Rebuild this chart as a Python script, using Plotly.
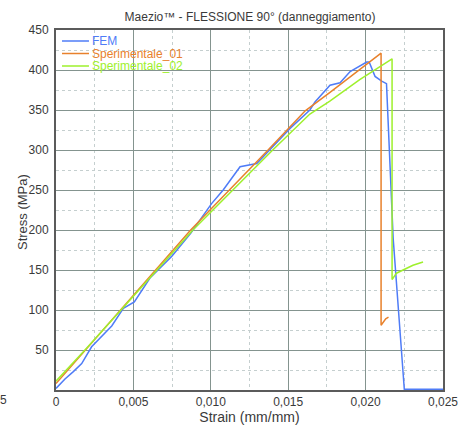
import plotly.graph_objects as go

# ---------------- data ----------------
fem_strain = [0, 0.00058, 0.00112, 0.00166, 0.0023, 0.00284, 0.0036, 0.00435, 0.00506,
              0.00607, 0.00747, 0.0087, 0.01005, 0.0108, 0.01189, 0.01297, 0.01512,
              0.0164, 0.01673, 0.0177, 0.01835, 0.019, 0.02007, 0.02023, 0.02061,
              0.02104, 0.02135, 0.02178, 0.0225, 0.025]
fem_stress = [2, 13.7, 23, 33, 54, 64.6, 80, 102, 110,
              140, 167, 196, 233, 250, 279, 283, 327,
              350, 360, 381, 384, 398, 410, 410, 392,
              386, 383, 190, 1, 1]

sp01_strain = [0, 0.0042, 0.0087, 0.0137, 0.0161, 0.0177, 0.0196, 0.0210,
               0.0210, 0.02115, 0.0213, 0.02148]
sp01_stress = [8, 101, 200, 300, 349, 372, 400, 421,
               81, 85, 89, 91]

sp02_strain = [0, 0.00187, 0.0042, 0.0088, 0.0140, 0.0164, 0.01769, 0.01962, 0.02171,
               0.02171, 0.02199, 0.02253, 0.02306, 0.02371]
sp02_stress = [11, 50, 100, 199, 300, 345, 361, 388, 414,
               138, 146, 151, 156, 160]

series_names = ["FEM", "Sperimentale_01", "Sperimentale_02"]
series_colors = ["#4f7cf7", "#e8812c", "#9ef02c"]

x_tickvals = [0, 0.005, 0.010, 0.015, 0.020, 0.025]
x_ticktext = ["0", "0,005", "0,010", "0,015", "0,020", "0,025"]
y_tickvals = [50, 100, 150, 200, 250, 300, 350, 400, 450]
y_ticktext = ["50", "100", "150", "200", "250", "300", "350", "400", "450"]
edge_label = "5"   # remnant of the clipped "-0,005" tick label at the far left

title_text = "Maezio\u2122 - FLESSIONE 90\u00b0 (danneggiamento)"
x_title = "Strain (mm/mm)"
y_title = "Stress (MPa)"

# ---------------- figure ----------------
FONT = "Liberation Sans, Arial, Helvetica, sans-serif"
TXT = "#3a3a3a"

fig = go.Figure()
for xs, ys, name, col in zip([fem_strain, sp01_strain, sp02_strain],
                             [fem_stress, sp01_stress, sp02_stress],
                             series_names, series_colors):
    fig.add_trace(go.Scatter(x=xs, y=ys, mode="lines", name=name,
                             line=dict(color=col, width=1.5),
                             showlegend=False, hoverinfo="skip"))

# plot-area pixel geometry helpers (for legend placement)
L, R, T, B = 56, 443.3, 30, 390
W, H = R - L, B - T
def px(xp):
    return (xp - L) / W
def py(yp):
    return (B - yp) / H

shapes = [dict(type="rect", xref="paper", yref="paper",
               x0=px(57.5), x1=px(192), y0=py(73), y1=py(31),
               fillcolor="white", line=dict(width=0), layer="between")]
annotations = []
leg_y = [41, 53.5, 66]
for name, col, yy in zip(series_names, series_colors, leg_y):
    shapes.append(dict(type="line", xref="paper", yref="paper",
                       x0=px(62), x1=px(89), y0=py(yy), y1=py(yy),
                       line=dict(color=col, width=1.5), layer="above"))
    annotations.append(dict(text=name, xref="paper", yref="paper",
                            x=px(90.5), y=py(yy), xanchor="left", yanchor="middle",
                            showarrow=False, font=dict(family=FONT, size=12, color=col)))

annotations.append(dict(text=edge_label, xref="paper", yref="paper",
                        x=px(9), y=py(400.5), xanchor="right", yanchor="middle",
                        showarrow=False, font=dict(family=FONT, size=12, color=TXT)))
# y-axis title placed precisely
annotations.append(dict(text=y_title, xref="paper", yref="paper",
                        x=px(22), y=py(212), xanchor="center", yanchor="middle",
                        textangle=-90, showarrow=False,
                        font=dict(family=FONT, size=13, color=TXT)))

grid_major = "#84948f"
grid_minor = "#c5cfcf"

fig.update_layout(
    width=459, height=425,
    margin=dict(l=L, r=459 - R, t=T, b=425 - B, autoexpand=False),
    paper_bgcolor="white", plot_bgcolor="white",
    font=dict(family=FONT, size=12, color=TXT),
    title=dict(text=title_text, x=250 / 459, xref="container", xanchor="center",
               y=1 - 17 / 425, yref="container", yanchor="middle", automargin=False,
               font=dict(family=FONT, size=12, color=TXT)),
    shapes=shapes, annotations=annotations,
    xaxis=dict(range=[0, 0.025], tickvals=x_tickvals, ticktext=x_ticktext,
               showgrid=True, gridcolor=grid_major, gridwidth=1,
               minor=dict(dtick=0.0025, tick0=0, showgrid=True, griddash="dot",
                          gridcolor=grid_minor, gridwidth=1),
               showline=True, mirror=True, linecolor="#5b5b5b", linewidth=2,
               ticks="", zeroline=False, automargin=False,
               tickfont=dict(family=FONT, size=12, color=TXT),
               title=dict(text=x_title, standoff=6,
                          font=dict(family=FONT, size=14, color=TXT))),
    yaxis=dict(range=[0, 450], tickvals=y_tickvals, ticktext=y_ticktext,
               showgrid=True, gridcolor=grid_major, gridwidth=1,
               minor=dict(dtick=25, tick0=0, showgrid=True, griddash="dot",
                          gridcolor=grid_minor, gridwidth=1),
               showline=True, mirror=True, linecolor="#5b5b5b", linewidth=2,
               ticks="", zeroline=False, ticklabelstandoff=3, automargin=False,
               tickfont=dict(family=FONT, size=12, color=TXT)),
)

fig.write_html("out.html",
               config={"displayModeBar": False},
               post_script="document.body.style.margin='0';document.body.style.overflow='hidden';")
